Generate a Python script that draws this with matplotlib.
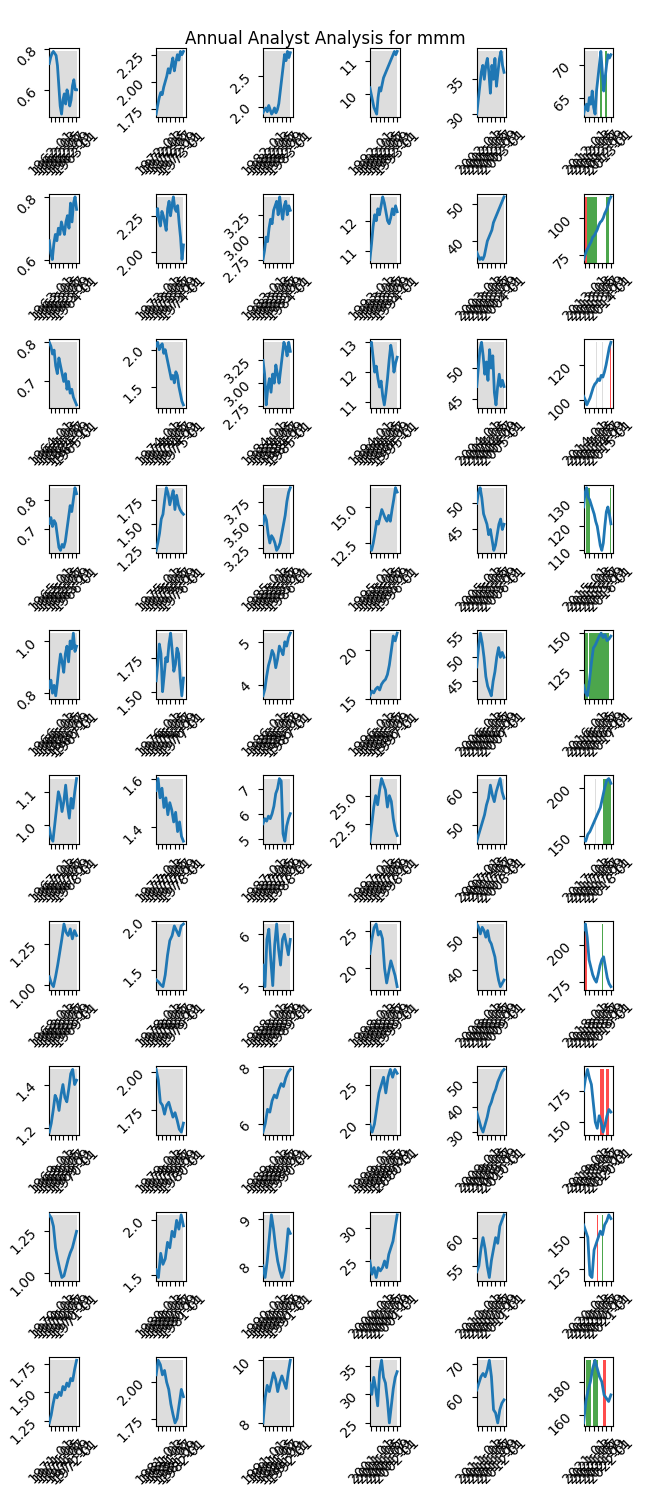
import numpy as np
import pandas as pd
import matplotlib
matplotlib.use('Agg')
from matplotlib import pyplot as plt
import matplotlib.dates as mdates

ticker = 'mmm'
years = list(range(1962, 2022))

y1962 = [0.73, 0.76, 0.78, 0.79, 0.78, 0.77, 0.72, 0.62, 0.52, 0.48, 0.55, 0.58, 0.53, 0.60, 0.57, 0.52, 0.55, 0.62, 0.65, 0.60, 0.60]
y1963 = [0.66, 0.62, 0.60, 0.65, 0.68, 0.66, 0.70, 0.68, 0.72, 0.70, 0.68, 0.72, 0.74, 0.70, 0.78, 0.72, 0.78, 0.80, 0.76]
y1964 = [0.80, 0.79, 0.77, 0.78, 0.74, 0.72, 0.76, 0.74, 0.72, 0.70, 0.72, 0.68, 0.70, 0.67, 0.68, 0.66, 0.65, 0.64]
y1965 = [0.72, 0.74, 0.71, 0.73, 0.72, 0.68, 0.64, 0.63, 0.65, 0.64, 0.66, 0.70, 0.74, 0.78, 0.76, 0.80, 0.84, 0.82]
y1966 = [0.82, 0.85, 0.80, 0.83, 0.79, 0.84, 0.90, 0.95, 0.92, 0.88, 0.95, 0.98, 0.92, 1.00, 0.97, 1.03, 0.96, 0.98]
y1967 = [0.99, 0.96, 0.95, 1.00, 1.05, 1.10, 1.08, 1.04, 1.07, 1.12, 1.06, 1.02, 1.08, 1.05, 1.10, 1.14]
y1968 = [1.05, 1.01, 0.99, 1.05, 1.12, 1.20, 1.28, 1.37, 1.32, 1.30, 1.34, 1.28, 1.33, 1.30]
y1969 = [1.18, 1.22, 1.28, 1.35, 1.33, 1.28, 1.35, 1.40, 1.34, 1.32, 1.38, 1.45, 1.47, 1.40, 1.42]
y1970 = [1.35, 1.33, 1.28, 1.15, 1.08, 1.02, 0.97, 0.98, 1.03, 1.08, 1.12, 1.15, 1.20, 1.25]
y1971 = [1.23, 1.30, 1.40, 1.48, 1.45, 1.50, 1.47, 1.55, 1.52, 1.58, 1.55, 1.62, 1.60, 1.70, 1.78]
y1972 = [1.70, 1.78, 1.85, 1.90, 1.88, 1.95, 2.00, 2.05, 2.12, 2.08, 2.15, 2.22, 2.10, 2.18, 2.25, 2.20, 2.28, 2.25, 2.28]
y1973 = [2.25, 2.30, 2.22, 2.18, 2.28, 2.25, 2.20, 2.15, 2.30, 2.35, 2.25, 2.32, 2.38, 2.30, 2.28, 2.32, 2.20, 2.10, 1.95, 2.05]
y1974 = [2.05, 2.10, 2.00, 2.05, 2.08, 1.95, 2.00, 1.90, 1.80, 1.70, 1.60, 1.65, 1.55, 1.70, 1.65, 1.50, 1.40, 1.30, 1.25]
y1975 = [1.22, 1.30, 1.40, 1.55, 1.60, 1.75, 1.88, 1.82, 1.70, 1.78, 1.85, 1.65, 1.80, 1.70, 1.65, 1.62, 1.60]
y1976 = [1.58, 1.70, 1.85, 1.78, 1.50, 1.62, 1.75, 1.72, 1.85, 1.93, 1.80, 1.65, 1.70, 1.82, 1.78, 1.60, 1.47, 1.60]
y1977 = [1.55, 1.60, 1.52, 1.56, 1.48, 1.52, 1.45, 1.50, 1.47, 1.42, 1.46, 1.38, 1.42, 1.36, 1.34]
y1978 = [1.40, 1.38, 1.35, 1.33, 1.45, 1.65, 1.80, 1.85, 1.95, 1.90, 1.85, 1.95, 1.97]
y1979 = [2.02, 1.95, 1.80, 1.78, 1.72, 1.78, 1.80, 1.75, 1.70, 1.73, 1.68, 1.62, 1.60, 1.66]
y1980 = [1.55, 1.48, 1.70, 1.60, 1.65, 1.80, 1.75, 1.90, 1.85, 2.00, 1.92, 2.05, 1.95]
y1981 = [2.05, 2.15, 2.12, 2.05, 2.08, 2.00, 1.95, 1.85, 1.78, 1.72, 1.75, 1.85, 1.95, 1.90]
y1982 = [1.90, 1.95, 1.98, 1.92, 2.02, 1.95, 1.88, 1.92, 1.98, 1.90, 1.95, 2.05, 2.25, 2.45, 2.65, 2.85, 2.75, 2.90, 2.80, 2.88]
y1983 = [2.75, 2.85, 3.00, 2.95, 3.10, 3.20, 3.15, 3.30, 3.35, 3.40, 3.25, 3.45, 3.30, 3.20, 3.35, 3.40, 3.25, 3.35, 3.30]
y1984 = [3.25, 3.10, 2.76, 2.95, 3.05, 2.90, 3.10, 3.00, 3.20, 3.10, 3.00, 3.15, 3.30, 3.45, 3.40, 3.30, 3.45, 3.35]
y1985 = [3.50, 3.60, 3.55, 3.40, 3.30, 3.38, 3.35, 3.30, 3.22, 3.25, 3.30, 3.40, 3.50, 3.60, 3.75, 3.85, 3.90]
y1986 = [3.75, 3.90, 4.20, 4.45, 4.60, 4.80, 4.70, 4.40, 4.60, 4.90, 4.80, 4.70, 5.00, 4.90, 5.10, 5.20]
y1987 = [5.6, 5.8, 5.7, 5.9, 5.8, 6.0, 6.3, 6.8, 7.0, 7.4, 7.3, 5.2, 4.9, 5.5, 5.8, 6.0]
y1988 = [5.4, 4.98, 5.9, 6.1, 5.5, 5.0, 5.8, 6.2, 5.7, 5.4, 5.9, 6.0, 5.8, 5.6, 5.9]
y1989 = [5.7, 6.0, 6.5, 6.4, 6.8, 7.0, 6.9, 7.2, 7.4, 7.3, 7.6, 7.8, 7.9]
y1990 = [8.0, 7.75, 8.1, 8.6, 9.1, 8.8, 8.4, 8.1, 7.9, 7.75, 7.9, 8.3, 8.8, 8.7]
y1991 = [8.0, 8.8, 9.2, 9.0, 9.3, 9.6, 9.4, 9.0, 9.3, 9.5, 9.3, 9.1, 9.6, 10.0]
y1992 = [10.2, 10.0, 9.8, 9.6, 9.5, 9.4, 9.9, 10.2, 10.1, 10.3, 10.5, 10.6, 10.7, 10.8, 10.9, 11.0, 11.1, 11.2, 11.3, 11.2, 11.3]
y1993 = [10.7, 11.2, 11.8, 12.2, 12.0, 12.4, 12.2, 12.5, 12.8, 12.6, 12.3, 12.0, 11.9, 12.1, 12.4, 12.2, 12.5, 12.3]
y1994 = [12.9, 13.0, 12.5, 12.0, 12.2, 11.8, 11.5, 11.7, 11.2, 10.9, 11.3, 11.8, 12.4, 12.9, 12.6, 12.0, 12.3, 12.5]
y1995 = [12.3, 12.0, 12.5, 13.2, 14.0, 13.8, 14.3, 14.8, 14.5, 14.2, 14.0, 14.4, 14.0, 14.8, 15.5, 16.3, 16.0]
y1996 = [15.3, 15.8, 15.6, 16.0, 16.2, 15.9, 16.5, 16.8, 17.0, 17.5, 18.5, 20.0, 21.5, 21.0, 21.8]
y1997 = [21.0, 22.5, 24.0, 25.0, 24.2, 25.5, 26.5, 26.0, 25.5, 24.0, 25.0, 24.5, 23.0, 22.0, 21.5]
y1998 = [22.0, 24.0, 25.5, 26.0, 24.5, 25.0, 24.0, 20.0, 18.0, 19.5, 21.0, 20.0, 19.0, 17.5]
y1999 = [20, 19, 20, 22, 24, 25, 26, 24, 26, 27, 26, 27, 26.5]
y2000 = [25, 23, 24, 22.5, 24, 23.5, 24, 25, 24, 26, 27, 28, 30, 32]
y2001 = [32, 30, 33, 31, 28, 34, 36, 33, 32, 29, 25, 28, 31, 33, 34]
y2002 = [30, 32, 34, 36, 37, 35, 37, 38, 36, 33, 37, 35, 38, 34, 36, 38, 39, 37, 36]
y2003 = [37, 36, 35, 35.5, 35, 36, 38, 40, 41, 42, 43, 45, 46, 47, 48, 49, 50, 51, 52]
y2004 = [47, 50, 53, 54.2, 52, 49, 51, 48, 53, 50, 52, 46, 44, 47, 49, 47, 48, 47]
y2005 = [50, 52, 53, 51, 48, 47, 46, 44, 45, 43, 41, 42, 44, 46, 47, 45, 46]
y2006 = [48, 52, 55, 53, 50, 46, 44, 43, 42, 45, 47, 50, 52, 50, 51, 50]
y2007 = [45, 47, 49, 51, 53, 56, 58, 62, 59, 57, 60, 62, 64, 60, 58]
y2008 = [54, 53, 51, 53, 52, 50, 52, 49, 48, 46, 44, 40, 37, 35, 36, 37]
y2009 = [38, 35, 32, 30, 33, 36, 40, 42, 45, 47, 50, 52, 54, 55]
y2010 = [54, 55, 58, 60, 58, 55, 53, 56, 58, 60, 59, 62, 63, 64]
y2011 = [62, 64, 66, 67, 66, 68, 71, 66, 56, 55, 52, 56, 58, 59]
y2012 = [62.5, 63.5, 64.0, 63.0, 65.0, 64.0, 66.0, 63.5, 62.5, 66, 68, 70, 72, 69, 66, 68, 70, 71.5, 71, 71.5]
y2013 = [72, 75, 78, 80, 82, 84, 87, 88, 90, 92, 95, 97, 98, 100, 103, 105, 108, 112, 114]
y2014 = [102, 100, 97, 99, 101, 104, 107, 109, 110, 112, 111, 114, 113, 116, 120, 125, 130, 133]
y2015 = [128, 134, 136, 132, 131, 129, 127, 125, 122, 120, 116, 112, 110, 113, 120, 126, 128, 125, 121]
y2016 = [115, 110, 108, 118, 130, 140, 142, 145, 148, 150, 147, 149, 145, 146, 148]
y2017 = [148, 145, 152, 155, 160, 165, 170, 175, 180, 190, 200, 208, 210, 205]
y2018 = [210, 214, 205, 190, 185, 180, 177, 175, 180, 186, 190, 192, 185, 178, 174, 172]
y2019 = [175, 185, 192, 185, 180, 165, 150, 145, 155, 150, 142, 148, 155, 160, 158]
y2020 = [160, 155, 150, 120, 118, 140, 145, 150, 155, 152, 160, 163, 168, 165]
y2021 = [155, 168, 175, 180, 188, 193, 188, 183, 180, 172, 170, 168, 172]

prices = [y1962, y1963, y1964, y1965, y1966, y1967, y1968, y1969, y1970, y1971,
          y1972, y1973, y1974, y1975, y1976, y1977, y1978, y1979, y1980, y1981,
          y1982, y1983, y1984, y1985, y1986, y1987, y1988, y1989, y1990, y1991,
          y1992, y1993, y1994, y1995, y1996, y1997, y1998, y1999, y2000, y2001,
          y2002, y2003, y2004, y2005, y2006, y2007, y2008, y2009, y2010, y2011,
          y2012, y2013, y2014, y2015, y2016, y2017, y2018, y2019, y2020, y2021]

# Analyst rating periods: (from, to, kind); anything not listed is "hold" (white)
ratings = {
    2012: [('2011-12-10', '2012-07-09', 'none'), ('2012-07-26', '2012-08-25', 'buy'),
           ('2012-10-07', '2012-11-10', 'buy')],
    2013: [('2012-12-18', '2013-01-22', 'sell'), ('2013-01-22', '2013-06-18', 'buy'),
           ('2013-10-23', '2013-12-05', 'buy')],
    2014: [('2014-06-10', '2014-06-24', 'none'), ('2014-09-04', '2014-09-18', 'none'),
           ('2014-12-22', '2015-01-05', 'sell')],
    2015: [('2015-01-20', '2015-03-15', 'buy'), ('2015-12-18', '2015-12-31', 'buy')],
    2016: [('2015-12-08', '2016-02-18', 'buy'), ('2016-03-03', '2016-12-09', 'buy')],
    2017: [('2017-05-20', '2017-06-03', 'none'), ('2017-09-11', '2018-01-01', 'buy')],
    2018: [('2017-12-08', '2018-01-28', 'sell'), ('2018-09-04', '2018-09-18', 'buy')],
    2019: [('2019-08-08', '2019-09-24', 'sell'), ('2019-10-19', '2019-12-01', 'sell'),
           ('2019-10-19', '2019-10-31', 'buy')],
    2020: [('2020-06-25', '2020-07-09', 'sell'), ('2020-09-04', '2020-09-18', 'buy')],
    2021: [('2021-01-20', '2021-04-01', 'buy'), ('2021-04-28', '2021-07-09', 'buy'),
           ('2021-09-20', '2021-10-19', 'sell')],
}
span_colors = {'none': ('#dddddd', 1.0), 'buy': ('green', 0.7), 'sell': ('red', 0.7)}

fig, axes = plt.subplots(10, 6, figsize=(6.5, 15), dpi=100)
fig.subplots_adjust(left=0.0758, right=0.9435, top=0.9678, bottom=0.0493,
                    wspace=2.6, hspace=1.11)

for i, year in enumerate(years):
    ax = axes[i % 10, i // 10]
    vals = prices[i]
    dates = pd.date_range(f'{year - 1}-12-10', f'{year + 1}-01-04', periods=len(vals))
    ax.plot(dates, vals, color='#1f77b4', lw=2.0, zorder=3)
    ax.set_xlim(dates[0], pd.Timestamp(f'{year + 1}-02-07'))
    lo, hi = ax.get_ylim()
    top = (max(vals) - lo) / (hi - lo)

    spans = ratings.get(year, [(str(dates[0].date()), str(dates[-1].date()), 'none')])
    for start, end, kind in spans:
        c, a = span_colors[kind]
        ax.axvspan(pd.Timestamp(start), pd.Timestamp(end), ymin=0, ymax=top,
                   color=c, alpha=a, lw=0, zorder=1)

    ax.xaxis.set_major_locator(mdates.MonthLocator(bymonth=[1, 3, 5, 7, 9, 11]))
    ax.xaxis.set_major_formatter(mdates.DateFormatter('%Y-%m'))
    ax.tick_params(axis='x', rotation=45)
    ax.tick_params(axis='y', rotation=45)

fig.suptitle(f'Annual Analyst Analysis for {ticker}')
fig.savefig('out.png')
